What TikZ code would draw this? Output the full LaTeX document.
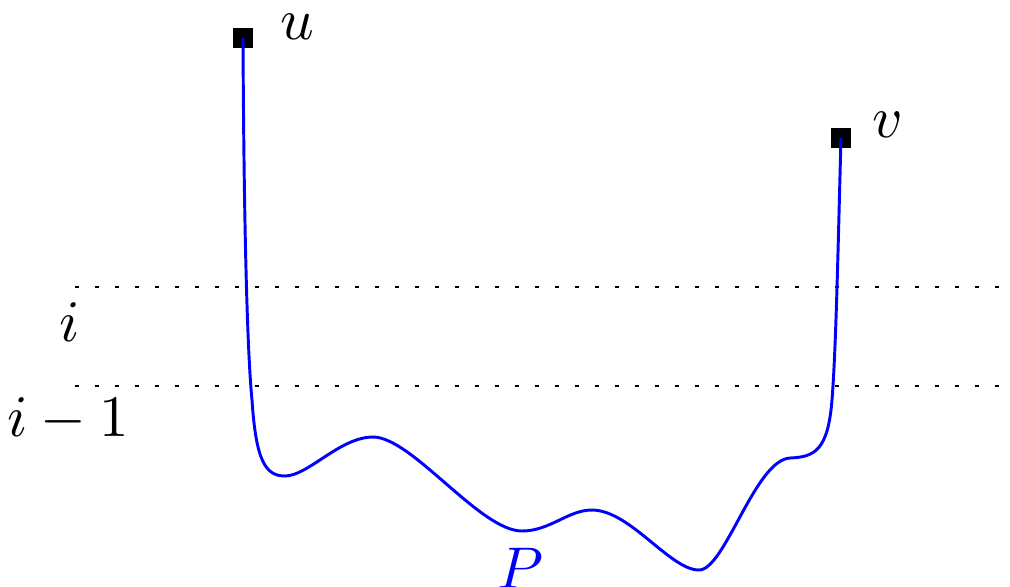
\documentclass[tikz,border=0pt]{standalone}
\begin{document}
\begin{tikzpicture}[x=0.17pt,y=-0.17pt,
  vert/.style={fill=black,draw=none,minimum size=3.3pt,inner sep=0pt},
  level/.style={line width=0.45pt,dash pattern=on 0.7pt off 2.7pt},
  pathline/.style={blue,line width=0.5pt}]
\useasboundingbox (0,0) rectangle (1010,586);
\node[vert] (u) at (243,38) {};
\node[vert] (v) at (841,138) {};
\node (ul) at (297,27) {$u$};
\node (vl) at (888,125) {$v$};
\coordinate (a1) at (75,287);
\coordinate (a2) at (1000,287);
\coordinate (b1) at (75,386);
\coordinate (b2) at (1000,386);
\draw[level] (a1) -- (a2);
\draw[level] (b1) -- (b2);
\node (il) at (70,322) {$i$};
\node (i1l) at (68,420) {$i-1$};
\draw[pathline] (u.center) .. controls (244,250) and (248,360) .. (252,400)
  .. controls (256,460) and (265,476) .. (285,476)
  .. controls (308,476) and (340,437) .. (373,437)
  .. controls (412,437) and (480,531) .. (522,531)
  .. controls (550,531) and (568,510) .. (592,510)
  .. controls (630,510) and (670,570) .. (699,570)
  .. controls (725,570) and (755,460) .. (790,458)
  .. controls (815,457) and (828,450) .. (832,400)
  .. controls (836,350) and (838,250) .. (v.center);
\node[blue] (P) at (520,568) {$P$};
\end{tikzpicture}
\end{document}
